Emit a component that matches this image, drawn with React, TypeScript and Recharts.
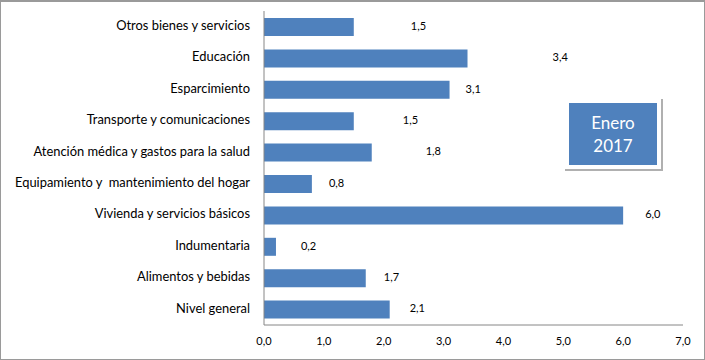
import React from 'react';
import { BarChart, Bar, XAxis, YAxis, LabelList } from 'recharts';

const CATEGORIES = [
  'Otros bienes y servicios',
  'Educación',
  'Esparcimiento',
  'Transporte y comunicaciones',
  'Atención médica y gastos para la salud',
  'Equipamiento y  mantenimiento del hogar',
  'Vivienda y servicios básicos',
  'Indumentaria',
  'Alimentos y bebidas',
  'Nivel general',
];

const VALUES = [1.5, 3.4, 3.1, 1.5, 1.8, 0.8, 6.0, 0.2, 1.7, 2.1];

const X_TICKS = [0, 1, 2, 3, 4, 5, 6, 7];

// distancia (px) entre el final de la barra y su etiqueta, como en el original
const LABEL_GAP = [57, 85, 16, 49, 54, 17, 22, 25, 18, 20];

const FONT = 'Lato, "Open Sans", sans-serif';

const fmt = (v: number) => v.toFixed(1).replace('.', ',');

const data = CATEGORIES.map((name, i) => ({ name, value: VALUES[i] }));

const renderLabel = (props: any) => {
  const { x, y, width, height, value, index } = props;
  return (
    <text
      x={Number(x) + Number(width) + LABEL_GAP[index]}
      y={Number(y) + Number(height) / 2}
      dominantBaseline="middle"
      textAnchor="start"
      fontSize={11}
      fontFamily={FONT}
      fill="#000"
    >
      {fmt(Number(value))}
    </text>
  );
};

// tick sin salto de línea
const renderCategoryTick = (props: any) => {
  const { x, y, payload } = props;
  return (
    <text
      x={x}
      y={y}
      textAnchor="end"
      dominantBaseline="middle"
      fontSize={12.9}
      fontFamily={FONT}
      fill="#000"
      style={{ whiteSpace: 'pre' }}
    >
      {payload.value}
    </text>
  );
};

export default function App() {
  return (
    <div style={{ position: 'absolute', left: 0, top: 0, width: 705, height: 360, background: '#fff' }}>
      <BarChart
        width={705}
        height={360}
        data={data}
        layout="vertical"
        margin={{ top: 11, right: 22, bottom: 5, left: 0 }}
      >
        <XAxis
          type="number"
          domain={[0, 7]}
          ticks={X_TICKS}
          tickFormatter={fmt}
          height={30}
          tickLine={false}
          tickSize={0}
          tickMargin={12}
          axisLine={{ stroke: '#868686' }}
          tick={{ fontSize: 11, fontFamily: FONT, fill: '#000' }}
        />
        <YAxis
          type="category"
          dataKey="name"
          width={264}
          interval={0}
          tickLine={false}
          tickSize={0}
          tickMargin={14}
          axisLine={{ stroke: '#868686' }}
          tick={renderCategoryTick}
        />
        <Bar dataKey="value" fill="#4f81bd" barSize={18} isAnimationActive={false}>
          <LabelList dataKey="value" content={renderLabel} />
        </Bar>
      </BarChart>
      <div
        style={{
          position: 'absolute',
          left: 565,
          top: 99,
          width: 96,
          height: 70,
          background: '#fff',
          boxShadow: '1px 1px 0 1px #b0b0b0',
          boxSizing: 'border-box',
          padding: 4,
        }}
      >
        <div
          style={{
            width: 88,
            height: 62,
            background: '#4f81bd',
            color: '#fff',
            fontFamily: FONT,
            fontSize: 17,
            lineHeight: '23px',
            textAlign: 'center',
            display: 'flex',
            flexDirection: 'column',
            justifyContent: 'center',
          }}
        >
          <div>Enero</div>
          <div>2017</div>
        </div>
      </div>
      <div
        style={{
          position: 'absolute',
          inset: 0,
          border: '1px solid #9a9a9a',
          borderTopWidth: 2,
          pointerEvents: 'none',
        }}
      />
    </div>
  );
}
